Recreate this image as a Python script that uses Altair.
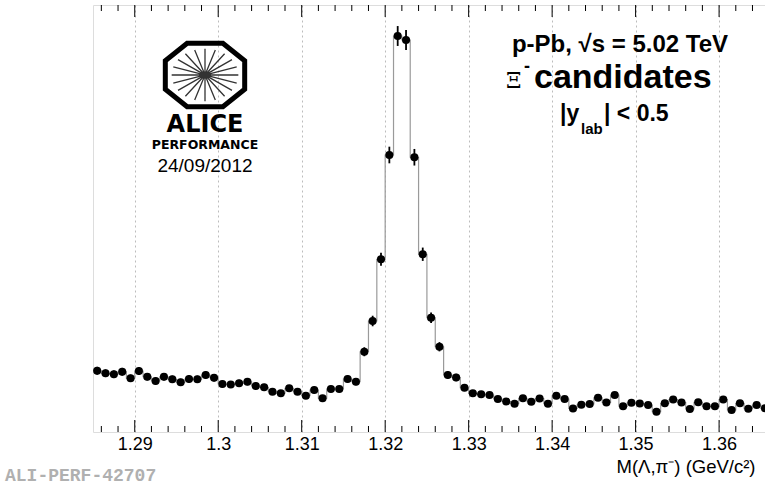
import math
import altair as alt
import pandas as pd

# ---------------- data ----------------
bin_low = 1.285
bin_width = 0.001
counts = [
    245, 235, 231, 241, 215, 244, 221, 204, 221, 211, 199, 212, 211, 228, 217,
    192, 190, 195, 201, 184, 179, 161, 155, 175, 161, 145, 168, 135, 172, 172,
    212, 201, 321, 444, 691, 1108, 1584, 1568, 1099, 711, 457, 341,
    228, 218, 177, 155, 151, 148, 132, 122, 113, 135, 121, 134, 113, 145, 132,
    94, 109, 112, 137, 118, 148, 103, 117, 114, 108, 81, 115, 130, 118, 92,
    119, 103, 103, 130, 88, 115, 93, 108, 95,
]
major_ticks = [1.29, 1.30, 1.31, 1.32, 1.33, 1.34, 1.35, 1.36]
tick_labels = ["1.29", "1.3", "1.31", "1.32", "1.33", "1.34", "1.35", "1.36"]
minor_ticks = [round(1.286 + 0.002 * i, 3) for i in range(40)]
minor_ticks = [t for t in minor_ticks if int(round(t * 1000)) % 10 != 0]

centers = [round(bin_low + bin_width * (i + 0.5), 4) for i in range(len(counts))]
df = pd.DataFrame({
    "x": centers,
    "count": counts,
    "lo": [c - math.sqrt(c) for c in counts],
    "hi": [c + math.sqrt(c) for c in counts],
})
major_df = pd.DataFrame({"x": major_ticks})
minor_df = pd.DataFrame({"x": minor_ticks})
one = pd.DataFrame({"a": [0]})

# ---------------- layout ----------------
PAD_L, PAD_T = 93, 5
W, H = 672, 427
FONT = "Liberation Sans"

label_expr = "{" + ",".join(f"'{v:.2f}':'{l}'" for v, l in zip(major_ticks, tick_labels)) + "}[format(datum.value,'.2f')]"

xscale = alt.Scale(domain=[1.285, 1.3655], nice=False, zero=False)
xaxis = alt.Axis(
    values=major_ticks, labelExpr=label_expr, ticks=False, domain=False,
    grid=True, gridColor="#bcbcbc", gridDash=[2, 3], gridWidth=1,
    labelFont=FONT, labelFontSize=18, labelColor="black", labelPadding=3,
    labelBaseline="top", labelFlush=False, labelOverlap=False,
    title="M(Λ,π⁻) (GeV/c²)", titleFont=FONT, titleFontSize=18.5,
    titleFontWeight="normal", titleColor="black", titleAlign="left",
    titleX=616 - PAD_L, titleY=472 - 432, titleBaseline="alphabetic",
)
X = alt.X("x:Q", scale=xscale, axis=xaxis)
yscale = alt.Scale(domain=[0, 1708], nice=False, zero=False)

step = alt.Chart(df).mark_line(interpolate="step", color="#9a9a9a", strokeWidth=1.2).encode(
    x=X, y=alt.Y("count:Q", scale=yscale, axis=None)
)
errs = alt.Chart(df).mark_rule(color="black", strokeWidth=1.8).encode(
    x=X, y=alt.Y("lo:Q", scale=yscale, axis=None), y2="hi:Q"
)
dots = alt.Chart(df).mark_circle(color="black", size=66, opacity=1).encode(
    x=X, y=alt.Y("count:Q", scale=yscale, axis=None)
)

def ticks(data, length):
    bottom = alt.Chart(data).mark_rule(color="black", strokeWidth=1).encode(
        x=X, y=alt.value(H), y2=alt.value(H - length))
    top = alt.Chart(data).mark_rule(color="black", strokeWidth=1).encode(
        x=X, y=alt.value(0), y2=alt.value(length))
    return [bottom, top]

tick_layers = ticks(major_df, 12) + ticks(minor_df, 6)

def label(text, x, y, size, weight="normal", align="left", font=FONT, color="black"):
    return alt.Chart(one).mark_text(
        text=text, fontSize=size, fontWeight=weight, align=align,
        baseline="alphabetic", font=font, color=color,
    ).encode(x=alt.value(x - PAD_L), y=alt.value(y - PAD_T))

# ---------- ALICE logo (drawn as custom symbols) ----------
oct_pts = [(1, 0.36), (0.45, 0.8), (-0.45, 0.8), (-1, 0.36),
           (-1, -0.36), (-0.45, -0.8), (0.45, -0.8), (1, -0.36)]
oct_path = "M " + " L ".join(f"{px:.3f} {py:.3f}" for px, py in oct_pts) + " Z"
spoke_parts = []
for k in range(10):
    a = math.pi * k / 10
    dx, dy = 0.84 * math.cos(a), 0.66 * math.sin(a)
    spoke_parts.append(f"M {dx:.3f} {dy:.3f} L {-dx:.3f} {-dy:.3f}")
spoke_path = " ".join(spoke_parts)

LX, LY = 205, 75
octagon = alt.Chart(one).mark_point(
    shape=oct_path, size=6300, filled=False, stroke="black", strokeWidth=5, opacity=1
).encode(x=alt.value(LX - PAD_L), y=alt.value(LY - PAD_T))
spokes = alt.Chart(one).mark_point(
    shape=spoke_path, size=6300, filled=False, stroke="#333333", strokeWidth=1.3, opacity=1
).encode(x=alt.value(LX - PAD_L), y=alt.value(LY - PAD_T))

texts = [
    label("ALICE", LX, 132, 24, "bold", "center", "DejaVu Sans"),
    label("PERFORMANCE", LX, 149, 12.5, "bold", "center", "DejaVu Sans"),
    label("24/09/2012", LX, 172, 19, "normal", "center"),
    label("p-Pb, √s = 5.02 TeV", 620, 52, 24, "bold", "center"),
    label("Ξ", 506, 88, 22, "normal", "left", "DejaVu Serif"),
    label("-", 524, 72, 18, "bold", "left"),
    label("candidates", 534, 88, 34, "bold", "left"),
    label("|y", 560, 121, 23, "bold", "left"),
    label("lab", 581, 134, 15, "bold", "left"),
    label("| < 0.5", 604, 121, 23, "bold", "left"),
    label("ALI-PERF-42707", 5, 481, 18, "bold", "left", "Liberation Mono", "#b0b0b0"),
]

chart = alt.layer(
    step, errs, dots, *tick_layers, octagon, spokes, *texts
).properties(
    width=W, height=H, autosize="none",
    padding={"left": PAD_L, "top": PAD_T, "right": 0, "bottom": 485 - PAD_T - H},
).configure_view(
    stroke="black", strokeWidth=1.3
).configure(background="white")

chart.save("out.html", embed_options={"renderer": "svg", "actions": False})
